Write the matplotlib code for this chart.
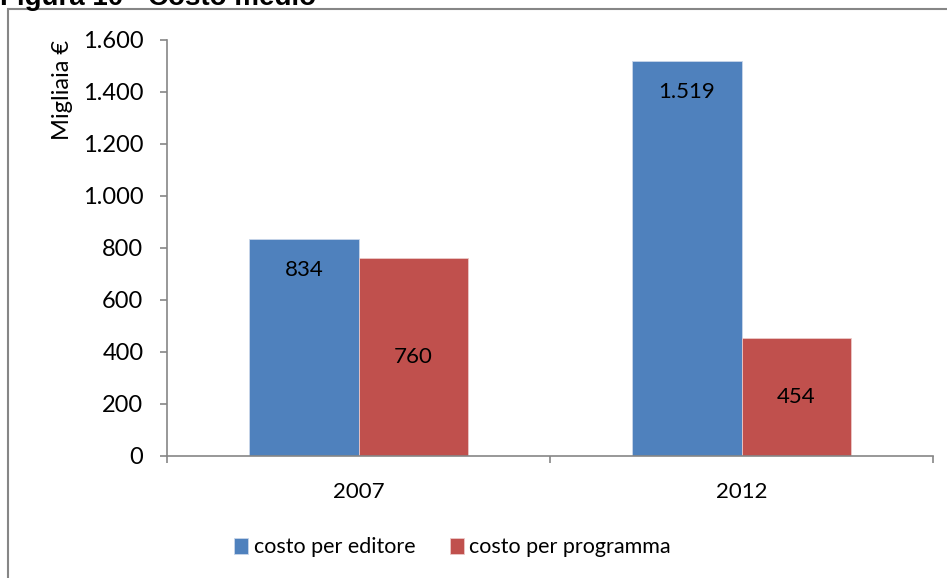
import matplotlib.pyplot as plt
from matplotlib.patches import Rectangle
import numpy as np

years = ["2007", "2012"]
editore = [834, 1519]
programma = [760, 454]
series_names = ["costo per editore", "costo per programma"]
label_editore = ["834", "1.519"]
label_programma = ["760", "454"]

plt.rcParams["font.family"] = ["Lato", "DejaVu Sans"]

fig = plt.figure(figsize=(9.47, 5.78), dpi=100)
ax = fig.add_axes([0.1764, 0.2111, 0.9852 - 0.1764, 0.9308 - 0.2111])

x = np.arange(len(years))
w = 0.285
b1 = ax.bar(x - w / 2, editore, w, color="#4F81BD", edgecolor="#c9d6ea", linewidth=0.6, label=series_names[0])
b2 = ax.bar(x + w / 2, programma, w, color="#C0504D", edgecolor="#ecc9c8", linewidth=0.6, label=series_names[1])

# data labels: blue near top, red centred
for rect, txt in zip(b1, label_editore):
    ax.text(rect.get_x() + rect.get_width() / 2, rect.get_height() - 120, txt,
            ha="center", va="center", fontsize=16)
for rect, txt in zip(b2, label_programma):
    ax.text(rect.get_x() + rect.get_width() / 2, rect.get_height() / 2, txt,
            ha="center", va="center", fontsize=16)

ax.set_xlim(-0.5, 1.5)
ax.set_ylim(0, 1600)
ax.set_yticks(range(0, 1601, 200))
ax.set_yticklabels(["0", "200", "400", "600", "800", "1.000", "1.200", "1.400", "1.600"])
ax.set_xticks(x)
ax.set_xticklabels(years)
ax.set_xticks([-0.5, 0.5, 1.5], minor=True)
ax.tick_params(axis="x", which="major", length=0, pad=19, labelsize=16)
ax.tick_params(axis="x", which="minor", length=5, width=1.2, color="#868686")
ax.tick_params(axis="y", length=5, width=1.2, color="#868686", pad=12, labelsize=17)

for s in ["top", "right"]:
    ax.spines[s].set_visible(False)
for s in ["left", "bottom"]:
    ax.spines[s].set_color("#868686")
    ax.spines[s].set_linewidth(1.2)

ax.text(-0.137, 1.0, "Migliaia €", transform=ax.transAxes, rotation=90,
        ha="center", va="top", fontsize=17)

fig.legend(handles=[b1, b2], loc="center", bbox_to_anchor=(0.478, 0.053), ncol=2,
           frameon=False, fontsize=15.5, handlelength=0.65, handleheight=0.8,
           handletextpad=0.25, columnspacing=1.6)

# chart frame
fig.patches.append(Rectangle((0.0084, -0.1), 1.2, 0.1 + 0.9844, transform=fig.transFigure,
                             fill=False, edgecolor="#868686", linewidth=1.5))

fig.text(0.0, 1.0 + 0.004, "Figura 10 - Costo medio", ha="left", va="center",
         fontsize=20, fontweight="bold", family="Liberation Sans")

fig.savefig("out.png", dpi=100)
